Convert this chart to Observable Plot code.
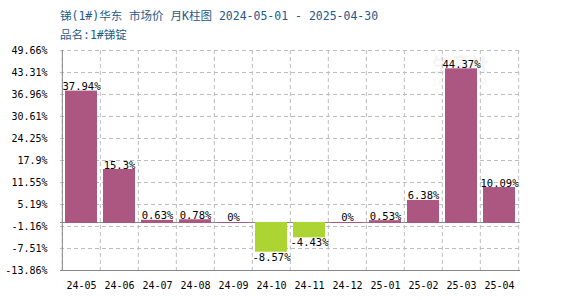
<!DOCTYPE html>
<html>
<head>
<meta charset="utf-8">
<script src="https://cdn.jsdelivr.net/npm/d3@7"></script>
<script src="https://cdn.jsdelivr.net/npm/@observablehq/plot@0.6"></script>
<style>
  body { margin: 0; background: #fff; }
  #wrap { position: relative; width: 570px; height: 300px; overflow: hidden; }
  .hdr { position: absolute; left: 60px; font-family: "DejaVu Sans Mono", "Noto Sans CJK SC", monospace; font-size: 11.5px; color: #1d5a8c; white-space: pre; line-height: 14px; }
  #title { top: 9px; }
  #subtitle { top: 28px; }
  #wm { position: absolute; left: 432px; top: 53px; font-family: "Noto Sans CJK SC", sans-serif; color: #f4f4f4; z-index: 0; }
  #wm .a { font-size: 19px; font-weight: bold; line-height: 22px; }
  #wm .b { font-size: 9px; line-height: 12px; margin-top: 2px; font-family: "DejaVu Sans", sans-serif; }
  #chart { position: absolute; left: 0; top: 40px; z-index: 1; }
</style>
</head>
<body>
<div id="wrap">
  <div id="title" class="hdr"></div>
  <div id="subtitle" class="hdr"></div>
  <div id="wm"><div class="a">生意社</div><div class="b">100PPI.COM</div></div>
  <div id="chart"></div>
</div>
<script>
const titleText = "锑(1#)华东 市场价 月K柱图 2024-05-01 - 2025-04-30";
const subtitleText = "品名:1#锑锭";
const months = ["24-05","24-06","24-07","24-08","24-09","24-10","24-11","24-12","25-01","25-02","25-03","25-04"];
const changes = [37.94, 15.3, 0.63, 0.78, 0, -8.57, -4.43, 0, 0.53, 6.38, 44.37, 10.09];
const yTicks = [49.66, 43.31, 36.96, 30.61, 24.25, 17.9, 11.55, 5.19, -1.16, -7.51, -13.86];
const upColor = "#ab5781";
const downColor = "#acd533";

document.getElementById("title").textContent = titleText;
document.getElementById("subtitle").textContent = subtitleText;

const data = months.map((m, i) => ({month: m, v: changes[i], c: changes[i] >= 0 ? upColor : downColor}));
const width = 570, mL = 60, mR = 50;
const bw = (width - mL - mR) / months.length;
const yMin = yTicks[yTicks.length - 1], yMax = yTicks[0];
const fontMono = "DejaVu Sans Mono, monospace";

const chart = Plot.plot({
  width, height: 260,
  marginLeft: mL, marginRight: mR, marginTop: 10, marginBottom: 30,
  style: {background: "transparent", fontFamily: fontMono, fontSize: "10px", color: "#000"},
  x: {type: "band", domain: months, padding: 0, label: null},
  y: {domain: [yMin, yMax], label: null},
  color: {type: "identity"},
  marks: [
    Plot.gridY(yTicks, {stroke: "#bdbdbd", strokeOpacity: 1, strokeDasharray: "4,3"}),
    Plot.ruleX(months, {dx: -bw / 2, stroke: "#bdbdbd", strokeDasharray: "4,3"}),
    Plot.ruleX([months[months.length - 1]], {dx: bw / 2, stroke: "#bdbdbd", strokeDasharray: "4,3"}),
    Plot.ruleY([0], {stroke: "#8a8a8a"}),
    Plot.barY(data, {x: "month", y: "v", fill: "c", insetLeft: 3, insetRight: 3}),
    Plot.tickY(data, {x: "month", y: 0, stroke: "c", insetLeft: 3, insetRight: 3}),
    Plot.ruleY([yMin], {stroke: "#888"}),
    Plot.ruleX([months[0]], {dx: -bw / 2, stroke: "#888"}),
    Plot.text(data.filter(d => d.v >= 0), {x: "month", y: "v", text: d => `${d.v}%`, lineAnchor: "bottom", dy: -1, fill: "#000", fontSize: 10.5, fontFamily: fontMono}),
    Plot.text(data.filter(d => d.v < 0), {x: "month", y: "v", text: d => `${d.v}%`, lineAnchor: "top", dy: 1, fill: "#000", fontSize: 10.5, fontFamily: fontMono}),
    Plot.axisY({ticks: yTicks, tickSize: 0, tickPadding: 13, tickFormat: d => `${d}%`, fontSize: 10, label: null}),
    Plot.axisX({tickSize: 0, tickPadding: 11, fontSize: 10, label: null})
  ]
});
document.getElementById("chart").append(chart);
</script>
</body>
</html>
